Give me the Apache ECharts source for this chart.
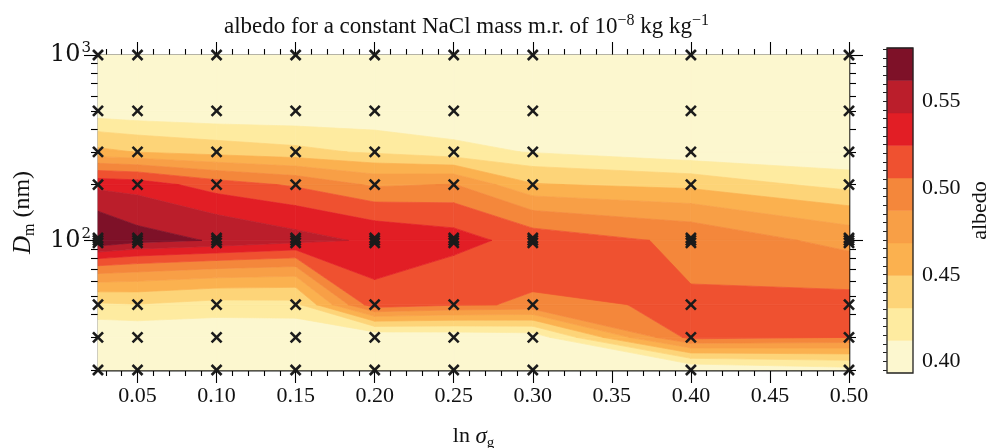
<!DOCTYPE html>
<html><head><meta charset="utf-8">
<script src="https://cdn.jsdelivr.net/npm/echarts@6/dist/echarts.min.js"></script>
<style>html,body{margin:0;padding:0;background:#fff}#c{width:993px;height:448px}</style>
</head><body><div id="c"></div>
<script>
// ---- data ----
const lnSigma = [0.025, 0.05, 0.10, 0.15, 0.20, 0.25, 0.30, 0.40, 0.50];
const Dm = [20, 30, 45, 100, 200, 300, 500, 1000];
// albedo values at each Dm (rows above) for one lnSigma column
const albedoSig0025 = [0.394, 0.396, 0.428, 0.5808, 0.538, 0.454, 0.400, 0.3933];
const albedoSig005  = [0.394, 0.397, 0.430, 0.569, 0.535, 0.449, 0.397, 0.3933];
const albedoSig010  = [0.395, 0.397, 0.424, 0.5605, 0.515, 0.442, 0.394, 0.3933];
const albedoSig015  = [0.395, 0.397, 0.425, 0.550, 0.503, 0.436, 0.394, 0.3933];
const albedoSig020  = [0.394, 0.395, 0.518, 0.540, 0.484, 0.428, 0.394, 0.3933];
const albedoSig025  = [0.395, 0.397, 0.508, 0.532, 0.488, 0.418, 0.394, 0.3933];
const albedoSig030  = [0.394, 0.400, 0.504, 0.5166, 0.451, 0.411, 0.394, 0.3933];
const albedoSig040  = [0.394, 0.512, 0.507, 0.502, 0.444, 0.398, 0.394, 0.3933];
const albedoSig050  = [0.405, 0.506, 0.511, 0.480, 0.4234, 0.395, 0.3933, 0.3933];
const albedo = [albedoSig0025, albedoSig005, albedoSig010, albedoSig015, albedoSig020,
                albedoSig025, albedoSig030, albedoSig040, albedoSig050];
// sample points (markers)
const sampleDm = [20, 30, 45, 97, 100, 103, 200, 300, 500, 1000];
// contour levels and colours
const levels = [0.3933, 0.4121, 0.4308, 0.4496, 0.4683, 0.4871, 0.5058, 0.5246, 0.5433, 0.5621, 0.5808];
const bandColors = ['#fcf7cf', '#feeba0', '#fdd478', '#fbb14f', '#f89f46', '#f4873b',
                    '#ef5130', '#e21e25', '#bb1e2b', '#7e1128'];
// ticks
const xMajorTicks = [0.05, 0.10, 0.15, 0.20, 0.25, 0.30, 0.35, 0.40, 0.45, 0.50];
const xMinorTicks = [0.03, 0.04, 0.06, 0.07, 0.08, 0.09, 0.11, 0.12, 0.13, 0.14, 0.16, 0.17, 0.18, 0.19,
  0.21, 0.22, 0.23, 0.24, 0.26, 0.27, 0.28, 0.29, 0.31, 0.32, 0.33, 0.34, 0.36, 0.37, 0.38, 0.39,
  0.41, 0.42, 0.43, 0.44, 0.46, 0.47, 0.48, 0.49];
const yMajorTicks = [100, 1000];
const yMinorTicks = [20, 30, 40, 50, 60, 70, 80, 90, 200, 300, 400, 500, 600, 700, 800, 900];
const cbarLabels = [0.40, 0.45, 0.50, 0.55];
const cbarTicks = [0.395, 0.400, 0.405, 0.410, 0.415, 0.420, 0.425, 0.430, 0.435, 0.440, 0.445,
  0.450, 0.455, 0.460, 0.465, 0.470, 0.475, 0.480, 0.485, 0.490, 0.495, 0.500, 0.505, 0.510,
  0.515, 0.520, 0.525, 0.530, 0.535, 0.540, 0.545, 0.550, 0.555, 0.560, 0.565, 0.570, 0.575, 0.580];

// ---- helpers ----
const FONT = "'Liberation Serif', 'DejaVu Serif', serif";
const FONT_EXP = "'DejaVu Serif', serif";
function interp(P, Q, l) {
  const t = (l - P[2]) / (Q[2] - P[2]);
  return [P[0] + t * (Q[0] - P[0]), P[1] + t * (Q[1] - P[1]), l];
}
function clipPoly(poly, level, keepAbove) {
  const out = [];
  const n = poly.length;
  for (let i = 0; i < n; i++) {
    const P = poly[i], Q = poly[(i + 1) % n];
    const pin = keepAbove ? P[2] >= level : P[2] <= level;
    const qin = keepAbove ? Q[2] >= level : Q[2] <= level;
    if (pin && qin) out.push(Q);
    else if (pin && !qin) out.push(interp(P, Q, level));
    else if (!pin && qin) { out.push(interp(P, Q, level)); out.push(Q); }
  }
  return out;
}

function renderContours(params, api) {
  const children = [];
  for (let k = 0; k < bandColors.length; k++) {
    const lo = levels[k], hi = levels[k + 1];
    for (let i = 0; i < lnSigma.length - 1; i++) {
      for (let j = 0; j < Dm.length - 1; j++) {
        const quad = [
          [lnSigma[i], Dm[j], albedo[i][j]],
          [lnSigma[i + 1], Dm[j], albedo[i + 1][j]],
          [lnSigma[i + 1], Dm[j + 1], albedo[i + 1][j + 1]],
          [lnSigma[i], Dm[j + 1], albedo[i][j + 1]]
        ];
        let poly = clipPoly(quad, lo, true);
        if (poly.length < 3) continue;
        poly = clipPoly(poly, hi, false);
        if (poly.length < 3) continue;
        children.push({
          type: 'polygon',
          shape: { points: poly.map(p => api.coord([p[0], p[1]])) },
          style: { fill: bandColors[k], stroke: bandColors[k], lineWidth: 0.7 },
          silent: true
        });
      }
    }
  }
  return { type: 'group', children };
}

function renderCross(params, api) {
  const c = api.coord([api.value(0), api.value(1)]);
  const s = 5;
  const st = { stroke: '#1b1b1b', lineWidth: 2.6, lineCap: 'butt' };
  return { type: 'group', children: [
    { type: 'line', shape: { x1: c[0] - s, y1: c[1] - s, x2: c[0] + s, y2: c[1] + s }, style: st },
    { type: 'line', shape: { x1: c[0] - s, y1: c[1] + s, x2: c[0] + s, y2: c[1] - s }, style: st }
  ]};
}

function renderCbar(params, api) {
  const children = [];
  for (let k = 0; k < bandColors.length; k++) {
    const p0 = api.coord([0, levels[k]]);
    const p1 = api.coord([1, levels[k + 1]]);
    children.push({ type: 'rect',
      shape: { x: p0[0], y: p1[1], width: p1[0] - p0[0], height: p0[1] - p1[1] },
      style: { fill: bandColors[k], stroke: bandColors[k], lineWidth: 0.5 }, silent: true });
  }
  return { type: 'group', children };
}

const markerData = [];
lnSigma.forEach(x => sampleDm.forEach(d => markerData.push([x, d])));

const lineStyle = { color: '#000', width: 1.3 };
const labelBase = { fontFamily: FONT, fontSize: 22, color: '#111' };
function xAx(pos, ticks, len, withLabels) {
  return {
    type: 'value', gridIndex: 0, position: pos, min: 0.025, max: 0.5,
    axisLine: { show: true, lineStyle, onZero: false },
    axisTick: { show: true, customValues: ticks, length: len, lineStyle: { color: '#000', width: 1.1 } },
    axisLabel: withLabels ? Object.assign({ show: true, customValues: xMajorTicks, margin: 15,
      formatter: v => v.toFixed(2) }, labelBase) : { show: false },
    splitLine: { show: false }
  };
}
function yAx(pos, ticks, len, withLabels) {
  return {
    type: 'log', logBase: 10, gridIndex: 0, position: pos, min: 20, max: 1000,
    axisLine: { show: true, lineStyle, onZero: false },
    axisTick: { show: true, customValues: ticks, length: len, lineStyle: { color: '#000', width: 1.1 } },
    axisLabel: withLabels ? { show: true, customValues: yMajorTicks, margin: 7,
      fontFamily: FONT_EXP, fontSize: 24, color: '#111',
      formatter: v => '10{sup|' + Math.round(Math.log10(v)) + '}',
      rich: { sup: { fontFamily: FONT_EXP, fontSize: 15, color: '#111', padding: [0, 0, 13, 1] } } }
      : { show: false },
    splitLine: { show: false },
    minorTick: { show: false }
  };
}

const xAxes = [
  Object.assign(xAx('bottom', xMajorTicks, 13, true), {
    name: 'ln {it|σ}{sub|g}', nameLocation: 'middle', nameGap: 52,
    nameTextStyle: { fontFamily: FONT, fontSize: 22, color: '#111',
      rich: { it: { fontFamily: FONT, fontSize: 23, fontStyle: 'italic', color: '#111' },
              sub: { fontFamily: FONT, fontSize: 15, color: '#111', padding: [14, 0, 0, 0] } } }
  }),
  xAx('bottom', xMinorTicks, 6, false),
  xAx('top', xMajorTicks, 13, false),
  xAx('top', xMinorTicks, 6, false),
  { type: 'value', gridIndex: 1, min: 0, max: 1, show: false }
];
const yAxes = [
  Object.assign(yAx('left', yMajorTicks, 14, true), {
    name: '{it|D}{sub|m} (nm)', nameLocation: 'middle', nameGap: 60, nameRotate: 90,
    nameTextStyle: { fontFamily: FONT, fontSize: 24, color: '#111',
      rich: { it: { fontFamily: FONT, fontSize: 25, fontStyle: 'italic', color: '#111' },
              sub: { fontFamily: FONT, fontSize: 16, color: '#111', padding: [14, 0, 0, 0] } } }
  }),
  yAx('left', yMinorTicks, 7, false),
  yAx('right', yMajorTicks, 14, false),
  yAx('right', yMinorTicks, 7, false),
  {
    type: 'value', gridIndex: 1, position: 'right', min: levels[0], max: levels[levels.length - 1],
    axisLine: { show: false },
    axisTick: { show: true, inside: true, customValues: cbarTicks, length: 4, lineStyle: { color: '#222', width: 1 } },
    axisLabel: Object.assign({ show: true, customValues: cbarLabels, margin: 9, formatter: v => v.toFixed(2) }, labelBase),
    splitLine: { show: false },
    name: 'albedo', nameLocation: 'middle', nameGap: 56, nameRotate: 90,
    nameTextStyle: { fontFamily: FONT, fontSize: 22, color: '#111' }
  },
  {
    type: 'value', gridIndex: 1, position: 'left', min: levels[0], max: levels[levels.length - 1],
    axisLine: { show: false },
    axisTick: { show: true, inside: true, customValues: cbarTicks, length: 4, lineStyle: { color: '#222', width: 1 } },
    axisLabel: { show: false }, splitLine: { show: false }
  }
];

const chart = echarts.init(document.getElementById('c'), null, { renderer: 'canvas' });
chart.setOption({
  animation: false,
  backgroundColor: '#fff',
  title: {
    text: 'albedo for a constant NaCl mass m.r. of 10{sup|−8} kg kg{sup|−1}',
    left: 219, top: 8,
    textStyle: { fontFamily: FONT, fontSize: 23, fontWeight: 'normal', color: '#111',
      rich: { sup: { fontFamily: FONT, fontSize: 16, color: '#111', padding: [0, 0, 11, 0] } } }
  },
  grid: [
    { left: 98, top: 55, width: 751, height: 315, show: false, containLabel: false, outerBoundsMode: 'none' },
    { left: 887, top: 48, width: 26, height: 325, show: true, borderColor: '#222', borderWidth: 1.3,
      backgroundColor: 'transparent', z: 10, containLabel: false, outerBoundsMode: 'none' }
  ],
  xAxis: xAxes,
  yAxis: yAxes,
  series: [
    { type: 'custom', xAxisIndex: 0, yAxisIndex: 0, data: [[0.025, 20]], renderItem: renderContours, silent: true, z: 1 },
    { type: 'custom', xAxisIndex: 0, yAxisIndex: 0, data: markerData, renderItem: renderCross, silent: true, z: 5, clip: false },
    { type: 'custom', xAxisIndex: 4, yAxisIndex: 4, data: [[0, levels[0]]], renderItem: renderCbar, silent: true, z: 1 }
  ]
});
</script></body></html>
